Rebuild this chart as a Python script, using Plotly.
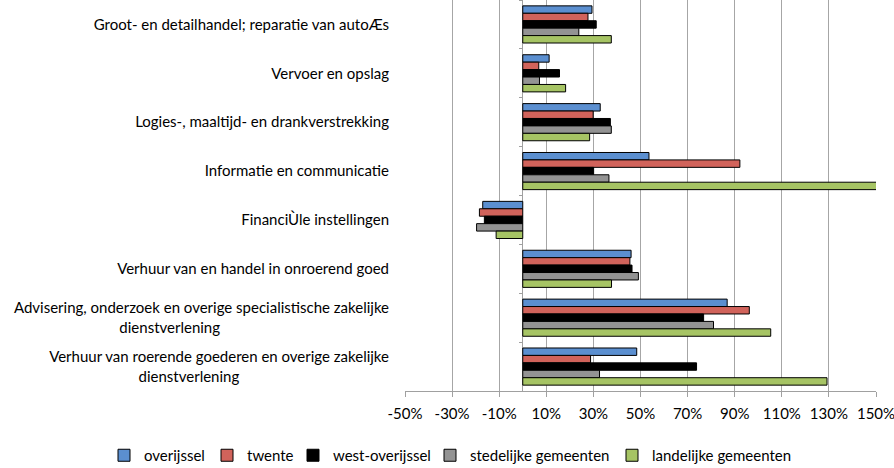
import plotly.graph_objects as go

categories = [
    "Groot- en detailhandel; reparatie van autoÆs",
    "Vervoer en opslag",
    "Logies-, maaltijd- en drankverstrekking",
    "Informatie en communicatie",
    "FinanciÙle instellingen",
    "Verhuur van en handel in onroerend goed",
    "Advisering, onderzoek en overige specialistische zakelijke dienstverlening",
    "Verhuur van roerende goederen en overige zakelijke dienstverlening",
]
tick_labels = [
    "Groot- en detailhandel; reparatie van autoÆs",
    "Vervoer en opslag",
    "Logies-, maaltijd- en drankverstrekking",
    "Informatie en communicatie",
    "FinanciÙle instellingen",
    "Verhuur van en handel in onroerend goed",
    "Advisering, onderzoek en overige specialistische zakelijke<br>dienstverlening" + "\u00a0" * 44,
    "Verhuur van roerende goederen en overige zakelijke<br>dienstverlening" + "\u00a0" * 39,
]

series_names = ["overijssel", "twente", "west-overijssel", "stedelijke gemeenten", "landelijke gemeenten"]
overijssel = [29.4, 11.2, 32.9, 53.6, -17.0, 46.0, 86.8, 48.4]
twente = [27.7, 6.8, 29.9, 92.2, -18.4, 45.5, 96.2, 28.8]
west_overijssel = [31.2, 15.6, 37.2, 30.1, -16.3, 46.4, 76.8, 73.8]
stedelijke = [23.8, 7.1, 37.6, 36.6, -19.6, 49.1, 81.0, 32.6]
landelijke = [37.6, 18.2, 28.4, 151.0, -11.3, 37.7, 105.3, 129.2]
series_values = [overijssel, twente, west_overijssel, stedelijke, landelijke]
colors = ["#5B8FD0", "#D1635B", "#000000", "#939393", "#A6C464"]

x_ticks = list(range(-50, 151, 20))
legend_x = [104, 207, 293, 430, 612]

FONT = "Lato"
FS = 15

fig = go.Figure()
for i, (name, vals, col) in enumerate(zip(series_names, series_values, colors)):
    lg = "legend" if i == 0 else f"legend{i+1}"
    fig.add_trace(go.Bar(
        y=categories, x=vals, name=name, orientation="h",
        marker=dict(color=col, line=dict(color="#000000", width=1)),
        legend=lg,
    ))

# helper axis at 0% carrying the category tick marks
fig.add_trace(go.Scatter(y=categories, x=[None] * len(categories), yaxis="y2",
                         showlegend=False, hoverinfo="skip", mode="markers"))

legends = {}
for i, lx in enumerate(legend_x):
    key = "legend" if i == 0 else f"legend{i+1}"
    legends[key] = dict(
        xref="container", yref="container", x=lx / 894, y=1 - 439 / 468,
        xanchor="left", yanchor="top", orientation="h",
        font=dict(family=FONT, size=FS, color="#000000"),
        bgcolor="rgba(0,0,0,0)", borderwidth=0,
    )

fig.update_layout(
    width=894, height=468,
    margin=dict(l=405, r=18, t=0, b=77),
    paper_bgcolor="white", plot_bgcolor="white",
    barmode="group", bargap=0.24, bargroupgap=0,
    font=dict(family=FONT, size=FS, color="#000000"),
    xaxis=dict(
        range=[-50, 150], tickmode="array", tickvals=x_ticks,
        ticktext=[f"{v}%" for v in x_ticks],
        showgrid=True, gridcolor="#A6A6A6", gridwidth=1,
        zeroline=True, zerolinecolor="#A0A0A0", zerolinewidth=1,
        showline=True, linecolor="#A0A0A0", linewidth=1,
        ticks="outside", ticklen=5, tickcolor="#A0A0A0",
        ticklabelstandoff=4, ticklabeloverflow="allow",
        tickfont=dict(family=FONT, size=FS), fixedrange=True,
    ),
    yaxis=dict(
        type="category", categoryorder="array", categoryarray=categories,
        tickmode="array", tickvals=categories, ticktext=tick_labels,
        range=[7.5, -0.5], showgrid=False, zeroline=False, showline=False,
        ticks="", ticklabelstandoff=15,
        tickfont=dict(family=FONT, size=FS),
    ),
    yaxis2=dict(
        type="category", categoryorder="array", categoryarray=categories,
        overlaying="y", anchor="free", position=0.25, side="left",
        range=[7.5, -0.5], showgrid=False, zeroline=False, showline=False,
        showticklabels=False, ticks="outside", tickson="boundaries",
        ticklen=4, tickcolor="#A0A0A0",
    ),
    **legends,
)

fig.write_html("out.html", config={"displayModeBar": False},
               post_script="document.body.style.margin='0';")
